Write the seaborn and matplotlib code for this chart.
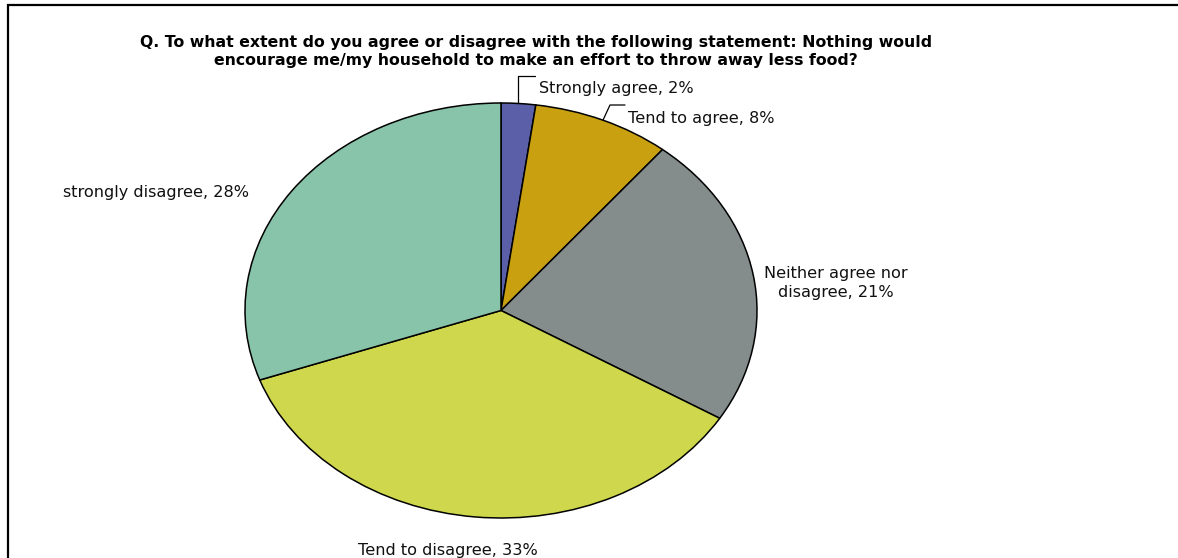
import numpy as np
import matplotlib
matplotlib.use("Agg")
import matplotlib.pyplot as plt
import seaborn as sns
from matplotlib.patches import Rectangle
from matplotlib.lines import Line2D

# Survey responses
categories = ["Strongly agree", "Tend to agree", "Neither agree nor\ndisagree",
              "Tend to disagree", "strongly disagree"]
shares = [2, 8, 21, 33, 28]
colors = ["#5A5FA8", "#C9A010", "#848C8C", "#CFD84C", "#88C4AA"]
title_lines = ["Q. To what extent do you agree or disagree with the following statement: Nothing would",
               "encourage me/my household to make an effort to throw away less food?"]

sns.set_theme(style="white")
plt.rcParams["font.family"] = ["DejaVu Sans"]

W, H = 1178, 558
fig = plt.figure(figsize=(W / 100, H / 100), dpi=100)
fig.patch.set_facecolor("white")

def fx(px):
    return px / W

def fy(py):
    return 1 - py / H

# Elliptical pie: axes box spans the ellipse, aspect left free
cx_l, cx_r, cy_t, cy_b = 245, 757, 103, 518
ax = fig.add_axes([fx(cx_l), fy(cy_b), (cx_r - cx_l) / W, (cy_b - cy_t) / H])
wedges, _ = ax.pie(shares, colors=sns.color_palette(colors), startangle=90,
                   counterclock=False, radius=1,
                   wedgeprops=dict(edgecolor="black", linewidth=1.1))
ax.set_aspect("auto")
ax.set_xlim(-1, 1)
ax.set_ylim(-1, 1)
ax.axis("off")

# Outer frame (left and top edges visible)
fig.patches.append(Rectangle((fx(8), fy(H + 20)), 1.5, fy(5) - fy(H + 20),
                             transform=fig.transFigure, fill=False,
                             edgecolor="black", linewidth=1.6))

# Title
fig.text(fx(536), fy(42), title_lines[0], ha="center", va="center",
         fontsize=11.3, fontweight="bold", color="black")
fig.text(fx(536), fy(61), title_lines[1], ha="center", va="center",
         fontsize=11.3, fontweight="bold", color="black")

def edge_point(w):
    th = np.deg2rad((w.theta1 + w.theta2) / 2)
    return np.cos(th), np.sin(th)

def to_px(x, y):
    return 501 + x * 256, 310.5 - y * 207.5

fs = 11.6
labels = [f"{c}, {v}%" for c, v in zip(categories, shares)]

# Leader lines for the two small slices
ex, ey = to_px(*edge_point(wedges[0]))
fig.add_artist(Line2D([fx(ex), fx(ex), fx(535)], [fy(ey), fy(76), fy(76)],
                      transform=fig.transFigure, color="black", linewidth=0.9))
ex, ey = to_px(*edge_point(wedges[1]))
fig.add_artist(Line2D([fx(ex), fx(ex + 7), fx(625)], [fy(ey), fy(105), fy(105)],
                      transform=fig.transFigure, color="black", linewidth=0.9))

fig.text(fx(539), fy(89), labels[0], ha="left", va="center", fontsize=fs, color="#111111")
fig.text(fx(628), fy(118), labels[1], ha="left", va="center", fontsize=fs, color="#111111")
fig.text(fx(836), fy(283), labels[2], ha="center", va="center", fontsize=fs,
         color="#111111", linespacing=1.32, multialignment="center")
fig.text(fx(448), fy(550), labels[3], ha="center", va="center", fontsize=fs, color="#111111")
fig.text(fx(63), fy(193), labels[4], ha="left", va="center", fontsize=fs, color="#111111")

fig.savefig("out.png", dpi=100, facecolor="white")
